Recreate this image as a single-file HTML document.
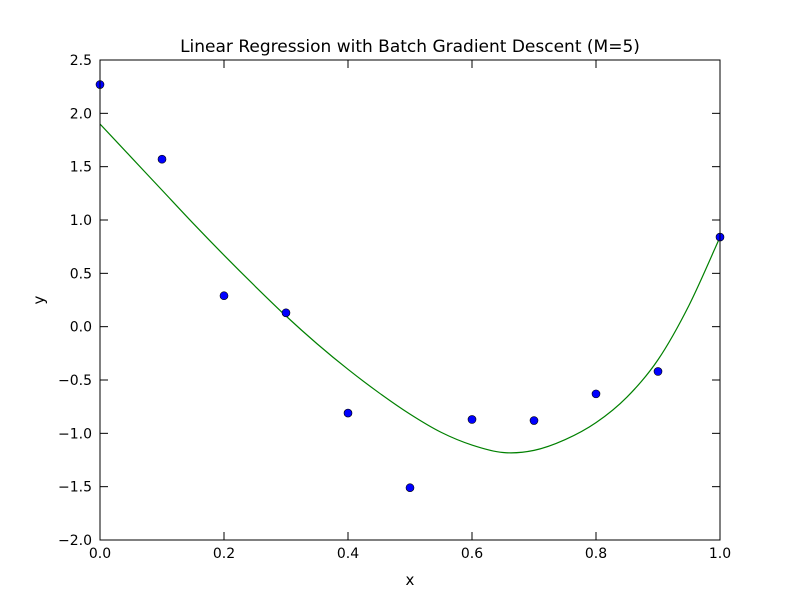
<!DOCTYPE html>
<html><head><meta charset="utf-8"><style>
body{margin:0;background:#fff;}
svg{display:block;font-family:"DejaVu Sans","Liberation Sans",sans-serif;}
</style></head><body>
<svg id="chart" width="800" height="600">
<rect x="0" y="0" width="800" height="600" fill="#fff"/>
<text x="410" y="52" font-size="17" text-anchor="middle">Linear Regression with Batch Gradient Descent (M=5)</text>
<text x="410" y="585" font-size="15" text-anchor="middle">x</text>
<text x="44" y="300" font-size="15" text-anchor="middle" transform="rotate(-90 44 300)">y</text>
<g id="ticks"></g>
<g id="marks"></g>
<rect x="100" y="60" width="620" height="480" fill="none" stroke="#000" stroke-width="1"/>
</svg>
<script>
const pointX=[0,0.1,0.2,0.3,0.4,0.5,0.6,0.7,0.8,0.9,1.0];
const pointY=[2.27,1.57,0.29,0.13,-0.81,-1.51,-0.87,-0.88,-0.63,-0.42,0.84];
const curveX=[0,0.05,0.1,0.15,0.2,0.25,0.3,0.35,0.4,0.45,0.5,0.55,0.6,0.65,0.7,0.75,0.8,0.85,0.9,0.95,1.0];
const curveY=[1.9,1.59,1.28,0.97,0.67,0.38,0.10,-0.16,-0.40,-0.62,-0.82,-0.99,-1.11,-1.18,-1.16,-1.06,-0.90,-0.66,-0.31,0.20,0.84];
const xTicks=[0,0.2,0.4,0.6,0.8,1.0];
const xTickLabels=["0.0","0.2","0.4","0.6","0.8","1.0"];
const yTicks=[-2,-1.5,-1,-0.5,0,0.5,1,1.5,2,2.5];
const yTickLabels=["−2.0","−1.5","−1.0","−0.5","0.0","0.5","1.0","1.5","2.0","2.5"];

const NS="http://www.w3.org/2000/svg";
const sx=v=>100+v*620;
const sy=v=>540-(v+2)/4.5*480;
function mk(tag,attrs,parent){const e=document.createElementNS(NS,tag);for(const k in attrs)e.setAttribute(k,attrs[k]);parent.appendChild(e);return e;}
const tg=document.getElementById('ticks'), mg=document.getElementById('marks');
xTicks.forEach((t,i)=>{
  const x=sx(t);
  let l=mk('line',{x1:x,x2:x,y1:540,y2:532,stroke:'#000'},tg);
  
  
  l=mk('line',{x1:x,x2:x,y1:60,y2:68,stroke:'#000'},tg);
  
  
  const tx=mk('text',{x:x,y:558,'font-size':14,'text-anchor':'middle'},tg);tx.textContent=xTickLabels[i];
  
  
});
yTicks.forEach((t,i)=>{
  const y=sy(t);
  let l=mk('line',{x1:100,x2:108,y1:y,y2:y,stroke:'#000'},tg);
  
  
  l=mk('line',{x1:712,x2:720,y1:y,y2:y,stroke:'#000'},tg);
  
  
  const tx=mk('text',{x:92,y:y+5,'font-size':14,'text-anchor':'end'},tg);tx.textContent=yTickLabels[i];
  
  
});
const P=curveX.map((x,i)=>[sx(x),sy(curveY[i])]);
let d=`M${P[0][0]},${P[0][1]}`;
for(let i=0;i<P.length-1;i++){
  const p0=P[Math.max(0,i-1)],p1=P[i],p2=P[i+1],p3=P[Math.min(P.length-1,i+2)];
  d+=` C${p1[0]+(p2[0]-p0[0])/6},${p1[1]+(p2[1]-p0[1])/6} ${p2[0]-(p3[0]-p1[0])/6},${p2[1]-(p3[1]-p1[1])/6} ${p2[0]},${p2[1]}`;
}
const path=mk('path',{d:d,fill:'none',stroke:'#008000','stroke-width':1.2},mg);


pointX.forEach((x,i)=>{
  const c=mk('circle',{cx:sx(x),cy:sy(pointY[i]),r:4,fill:'#0000ff',stroke:'#000','stroke-width':0.6},mg);
  
  
});
</script>
</body></html>
